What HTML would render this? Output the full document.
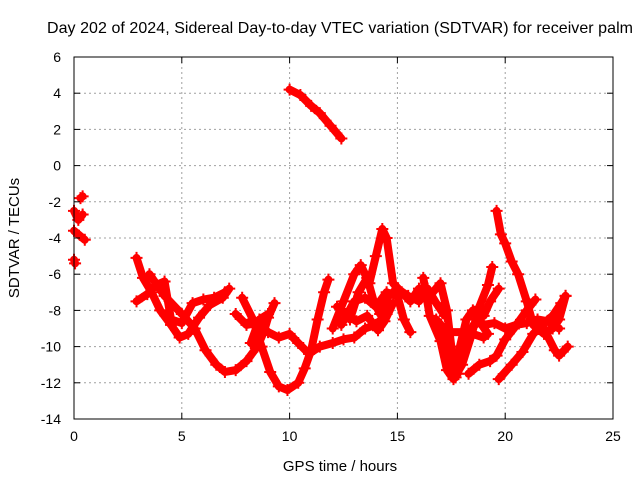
<!DOCTYPE html>
<html><head><meta charset="utf-8"><style>
body{margin:0;background:#fff}
svg text{font-family:"Liberation Sans",sans-serif;fill:#000}
</style></head><body>
<svg id="c" width="640" height="480" xmlns="http://www.w3.org/2000/svg">
<text x="340" y="33" font-size="16" text-anchor="middle" textLength="586">Day 202 of 2024, Sidereal Day-to-day VTEC variation (SDTVAR) for receiver palm</text>
<text x="340" y="471" font-size="15" text-anchor="middle">GPS time / hours</text>
<text transform="translate(19,238) rotate(-90)" font-size="15" text-anchor="middle">SDTVAR / TECUs</text>
<g id="grid"></g><g id="marks"></g><g id="axes"></g>
</svg>
<script>
const xTicks=[0,5,10,15,20,25];
const yTicks=[6,4,2,0,-2,-4,-6,-8,-10,-12,-14];
const trackEarly1=[[0,-2.5],[0.2,-3],[0.4,-2.7]];
const trackEarly2=[[0,-3.6],[0.5,-4.1]];
const trackEarly3=[[0.3,-1.8],[0.4,-1.7]];
const trackEarly4=[[0,-5.2],[0.05,-5.4]];
const trackA=[[2.9,-5.1],[3.2,-6.2],[3.6,-7],[4,-8],[4.5,-8.8],[4.9,-9.5],[5.3,-9.3],[5.8,-8.4],[6.3,-7.7],[6.9,-7.3],[7.2,-6.8]];
const trackB=[[2.9,-7.5],[3.4,-7.1],[3.8,-6.6],[4.2,-6.4],[4.5,-8.5],[5,-8.7],[5.5,-7.6],[6,-7.4],[6.5,-7.3],[7,-7]];
const trackC=[[3.5,-6],[4.2,-7.2],[5,-8.2],[5.6,-9],[6.1,-10.2],[6.6,-11],[7,-11.4],[7.5,-11.3],[8,-10.8],[8.5,-10],[8.8,-9.2],[9,-8.4],[9.3,-7.6]];
const trackD=[[7.8,-7.3],[8.3,-8.5],[8.7,-10],[9.1,-11.4],[9.5,-12.2],[9.9,-12.4],[10.4,-12],[10.7,-11.2],[11,-10.2],[11.3,-8.5],[11.6,-7],[11.8,-6.3]];
const trackE=[[7.5,-8.2],[8,-8.8],[8.5,-8.7],[9,-9.2],[9.5,-9.5],[10,-9.3],[10.4,-9.8],[10.9,-10.4],[11.4,-10],[12,-9.8],[12.5,-9.6],[13,-9.5],[13.5,-9],[14,-8.8],[14.5,-8.2]];
const trackF=[[8.2,-9.8],[8.6,-8.5],[9,-8.2]];
const trackTop=[[10,4.2],[10.5,3.9],[11,3.3],[11.4,2.9],[11.9,2.2],[12.4,1.5]];
const trackG=[[12,-9],[12.5,-7.5],[13,-6],[13.3,-5.5],[13.7,-6.5],[14,-5],[14.3,-3.5],[14.5,-4],[14.8,-6.5],[15.2,-7],[15.6,-7.5],[16,-6.8],[16.5,-7.2],[17,-6.5],[17.3,-8],[17.5,-10],[17.7,-11.7],[17.9,-10],[18.2,-8.5],[18.5,-8],[19,-8.3],[19.3,-7.5],[19.7,-6.8]];
const trackH=[[12.4,-8.8],[13,-7.5],[13.5,-7.3],[14,-7.8],[14.5,-7],[15,-7.2],[15.3,-8.5],[15.6,-9.2]];
const trackI=[[16.2,-6.2],[16.5,-8.3],[17,-9.7],[17.3,-11.3],[17.6,-11.8],[18,-11],[18.4,-9.5],[18.8,-7.8],[19.2,-6.6],[19.4,-5.6]];
const trackJ=[[19.6,-2.5],[19.8,-3.8],[20,-4.3],[20.3,-5.3],[20.6,-6],[21,-7.5],[21.3,-8.8],[21.8,-9.3],[22.2,-9],[22.5,-8.5],[22.8,-7.2]];
const trackK=[[18.3,-11.5],[18.8,-11],[19.3,-10.8],[19.6,-10.5],[20,-9.6],[20.4,-9],[21,-8],[21.4,-7.4]];
const trackL=[[19.7,-11.8],[20.3,-11],[20.8,-10.3],[21.3,-9.3],[21.8,-8.7],[22.2,-8.3],[22.6,-7.6],[22.8,-7.2]];
const trackM=[[21.7,-8.8],[22.3,-10.2],[22.5,-10.5],[22.9,-10]];
const trackN=[[19,-8.8],[19.5,-8.7],[20,-9],[20.5,-8.8],[21,-8.7],[21.5,-8.5],[22,-8.6],[22.5,-9]];
const trackO=[[16.8,-8.5],[17.3,-9.2],[18,-9.2],[18.5,-9.3],[19,-9.5]];
const trackP=[[12.8,-8.5],[13.2,-7],[13.6,-6.2],[13.9,-7.5],[14.2,-8.2],[14.6,-7.2],[15,-6.8],[15.5,-7.2],[16,-7.5],[16.4,-6.8],[16.8,-7.6],[17.2,-8.3]];
const trackQ=[[12.2,-7.8],[12.6,-8.2],[13.1,-8.6],[13.6,-8.3],[14.1,-9.1],[14.4,-8.6],[14.8,-7.6]];
const trackR=[[17.1,-9],[17.5,-10.8],[17.8,-11.5],[18.1,-10.2],[18.4,-9],[18.8,-8.6],[19.2,-9.3]];
const tracks=[trackEarly1,trackEarly2,trackEarly3,trackEarly4,trackA,trackB,trackC,trackD,trackE,trackF,trackTop,trackG,trackH,trackI,trackJ,trackK,trackL,trackM,trackN,trackO,trackP,trackQ,trackR];

const L=74,R=613,T=57,B=419;
const sx=h=>L+(h-0)/25*(R-L);
const sy=v=>T+(6-v)/20*(B-T);
const NS='http://www.w3.org/2000/svg';
function mk(tag,attrs,parent){const e=document.createElementNS(NS,tag);for(const k in attrs)e.setAttribute(k,attrs[k]);parent.appendChild(e);return e;}
const grid=document.getElementById('grid'),marks=document.getElementById('marks'),axes=document.getElementById('axes');
xTicks.forEach(t=>{
  const x=sx(t);
  if(t>0&&t<25){const g=mk('line',{x1:x,x2:x,y1:T,y2:B,stroke:'#a0a0a0','stroke-dasharray':'2,3'},grid);
  
  }
  mk('line',{x1:x,x2:x,y1:B,y2:B-6,stroke:'#000'},axes);
  mk('line',{x1:x,x2:x,y1:T,y2:T+6,stroke:'#000'},axes);
  const tx=mk('text',{x:x,y:B+22,'font-size':14,'text-anchor':'middle'},axes);tx.textContent=t;
  
  
});
yTicks.forEach(t=>{
  const y=sy(t);
  if(t<6&&t>-14){const g=mk('line',{x1:L,x2:R,y1:y,y2:y,stroke:'#a0a0a0','stroke-dasharray':'2,3'},grid);
  
  }
  mk('line',{x1:L,x2:L+6,y1:y,y2:y,stroke:'#000'},axes);
  mk('line',{x1:R,x2:R-6,y1:y,y2:y,stroke:'#000'},axes);
  const tx=mk('text',{x:L-13,y:y+5,'font-size':14,'text-anchor':'end'},axes);tx.textContent=t;
  
  
});
const fr=mk('rect',{x:L,y:T,width:R-L,height:B-T,fill:'none',stroke:'#000'},axes);


tracks.forEach(tr=>{
  const pl=mk('polyline',{points:tr.map(p=>sx(p[0])+','+sy(p[1])).join(' '),fill:'none',stroke:'#f00','stroke-width':8,'stroke-linejoin':'round','stroke-linecap':'round'},marks);
  
  
  tr.forEach(p=>{
    const x=sx(p[0]),y=sy(p[1]);
    const m=mk('path',{d:`M${x-6},${y}H${x+6}M${x},${y-6}V${y+6}`,stroke:'#f00','stroke-width':2},marks);
    
    
  });
});
</script>
</body></html>
